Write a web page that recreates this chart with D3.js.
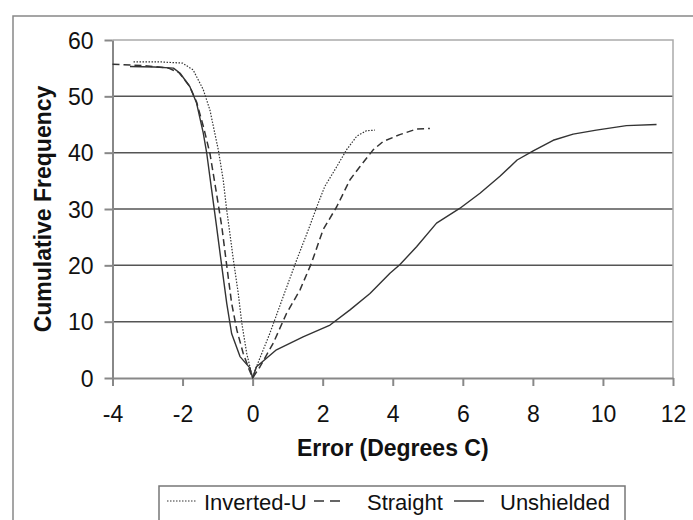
<!DOCTYPE html>
<html>
<head>
<meta charset="utf-8">
<script src="https://cdn.jsdelivr.net/npm/d3@7"></script>
<style>
  body { margin: 0; background: #fff; }
  svg { display: block; font-family: "Liberation Sans", Arial, sans-serif; }
</style>
</head>
<body>
<svg id="chart" width="693" height="520"></svg>
<script>
// values
const xTicks = [-4, -2, 0, 2, 4, 6, 8, 10, 12];
const yTicks = [0, 10, 20, 30, 40, 50, 60];

const invertedUX = [-3.4, -2.6, -2.0, -1.7, -1.41, -1.22, -0.98, -0.84, -0.74, -0.65, -0.55, -0.41, -0.31, -0.17, 0,
  0.07, 0.49, 0.87, 1.26, 1.59, 1.87, 2.06, 2.40, 2.68, 2.97, 3.25, 3.49];
const invertedUY = [56.1, 56.1, 55.9, 54.7, 51.2, 47.6, 40.5, 35.2, 29.8, 25.7, 21.0, 15.0, 9.8, 4.4, 0,
  1.4, 7.9, 14.4, 21.0, 26.3, 31.0, 34.0, 37.5, 40.5, 42.9, 43.9, 44.0];

const straightX = [-4.0, -3.0, -2.4, -2.1, -1.8, -1.6, -1.4, -1.22, -1.05, -0.88, -0.74, -0.60, -0.45, -0.27, -0.1, 0,
  0.21, 0.59, 0.97, 1.35, 1.68, 2.01, 2.40, 2.78, 3.06, 3.44, 3.73, 4.20, 4.68, 5.06];
const straightY = [55.7, 55.4, 55.0, 54.2, 51.8, 49.0, 44.5, 39.9, 33.5, 26.9, 20.0, 13.3, 8.5, 4.4, 1.5, 0,
  2.0, 6.2, 11.5, 15.6, 20.4, 26.3, 30.4, 35.2, 37.5, 40.5, 42.0, 43.2, 44.2, 44.3];

const unshieldedX = [-3.5, -2.8, -2.26, -2.07, -1.79, -1.6, -1.41, -1.31, -1.17, -1.03, -0.88, -0.74, -0.60, -0.36, -0.08, 0,
  0.11, 0.68, 1.44, 2.21, 2.78, 3.35, 3.92, 4.20, 4.68, 5.25, 5.91, 6.49, 7.06, 7.55, 8.01, 8.58, 9.15, 9.81, 10.67, 11.53];
const unshieldedY = [55.3, 55.2, 55.0, 54.1, 51.7, 48.8, 43.5, 39.9, 33.4, 26.9, 19.8, 13.3, 7.9, 3.8, 1.8, 0,
  2.0, 5.0, 7.3, 9.4, 12.1, 15.0, 18.6, 20.1, 23.3, 27.5, 30.1, 32.8, 35.8, 38.7, 40.3, 42.2, 43.3, 44.0, 44.8, 45.0];

const seriesNames = ["Inverted-U", "Straight", "Unshielded"];

const series = [
  {name: seriesNames[0], xs: invertedUX, ys: invertedUY, dash: "1.5,1.5", width: 1.2},
  {name: seriesNames[1], xs: straightX, ys: straightY, dash: "7,4", width: 1.5},
  {name: seriesNames[2], xs: unshieldedX, ys: unshieldedY, dash: null, width: 1.4}
];

const svg = d3.select("#chart");
const plotL = 112.5, plotR = 673, plotT = 40, plotB = 378;
const fontSize = 23;

// outer chart border
svg.append("rect")
  .attr("x", 13).attr("y", 16)
  .attr("width", 700).attr("height", 530)
  .attr("fill", "none").attr("stroke", "#888").attr("stroke-width", 1.5);

const x = d3.scaleLinear().domain([-4, 12]).range([plotL, plotR]);
const y = d3.scaleLinear().domain([0, 60]).range([plotB, plotT]);

// gridlines
svg.append("g")
  .selectAll("line")
  .data(yTicks.filter(d => d > 0 && d < 60))
  .enter().append("line")
  .attr("x1", plotL).attr("x2", plotR)
  .attr("y1", d => y(d)).attr("y2", d => y(d))
  .attr("stroke", "#555").attr("stroke-width", 1.5);

// plot top and right border
svg.append("path")
  .attr("d", `M${plotL},${y(60)}H${plotR}V${plotB}`)
  .attr("fill", "none").attr("stroke", "#aaa").attr("stroke-width", 1.5);

// axes (plain hyphen for negatives, like the original)
const fmt = d => String(d);
const xAxis = svg.append("g")
  .attr("transform", `translate(0,${plotB})`)
  .call(d3.axisBottom(x).tickValues(xTicks).tickFormat(fmt).tickSizeInner(8).tickSizeOuter(0).tickPadding(20));
const yAxis = svg.append("g")
  .attr("transform", `translate(${plotL},0)`)
  .call(d3.axisLeft(y).tickValues(yTicks).tickFormat(fmt).tickSizeInner(8).tickSizeOuter(0).tickPadding(11));

[xAxis, yAxis].forEach(a => {
  a.select(".domain").attr("stroke", "#888").attr("stroke-width", 2);
  a.selectAll(".tick line").attr("stroke", "#888").attr("stroke-width", 2);
  a.selectAll(".tick text")
    .attr("fill", "#111")
    .style("font-size", fontSize + "px")
    .style("font-family", "Liberation Sans, Arial, sans-serif");
});
yAxis.selectAll(".tick text").attr("dy", "0.36em");

// series
const line = d3.line().x(d => x(d[0])).y(d => y(d[1]));
series.forEach(s => {
  const pts = s.xs.map((v, i) => [v, s.ys[i]]);
  svg.append("path")
    .datum(pts)
    .attr("d", line)
    .attr("fill", "none")
    .attr("stroke", "#333")
    .attr("stroke-width", s.width)
    .attr("stroke-dasharray", s.dash)
    .attr("stroke-linejoin", "round");
});

// axis titles
svg.append("text")
  .attr("x", (plotL + plotR) / 2).attr("y", 456)
  .attr("text-anchor", "middle")
  .style("font-size", fontSize + "px").style("font-weight", "bold")
  .attr("fill", "#111")
  .text("Error (Degrees C)");

svg.append("text")
  .attr("transform", `translate(51,${(plotT + plotB) / 2}) rotate(-90)`)
  .attr("text-anchor", "middle")
  .style("font-size", fontSize + "px").style("font-weight", "bold")
  .attr("fill", "#111")
  .text("Cumulative Frequency");

// legend
const legend = svg.append("g");
legend.append("rect")
  .attr("x", 159).attr("y", 486)
  .attr("width", 466).attr("height", 50)
  .attr("fill", "#fff").attr("stroke", "#777").attr("stroke-width", 1.5);

const legendItems = [
  {lx: 167, tx: 204},
  {lx: 314, tx: 367},
  {lx: 454, tx: 500}
];
series.forEach((s, i) => {
  const it = legendItems[i];
  legend.append("line")
    .attr("x1", it.lx).attr("x2", it.lx + 30)
    .attr("y1", 501).attr("y2", 501)
    .attr("stroke", "#333").attr("stroke-width", s.width)
    .attr("stroke-dasharray", i === 0 ? "1.5,1.5" : (i === 1 ? "10,6" : null));
  legend.append("text")
    .attr("x", it.tx).attr("y", 510)
    .style("font-size", "22px")
    .attr("fill", "#111")
    .text(s.name);
});
</script>
</body>
</html>
